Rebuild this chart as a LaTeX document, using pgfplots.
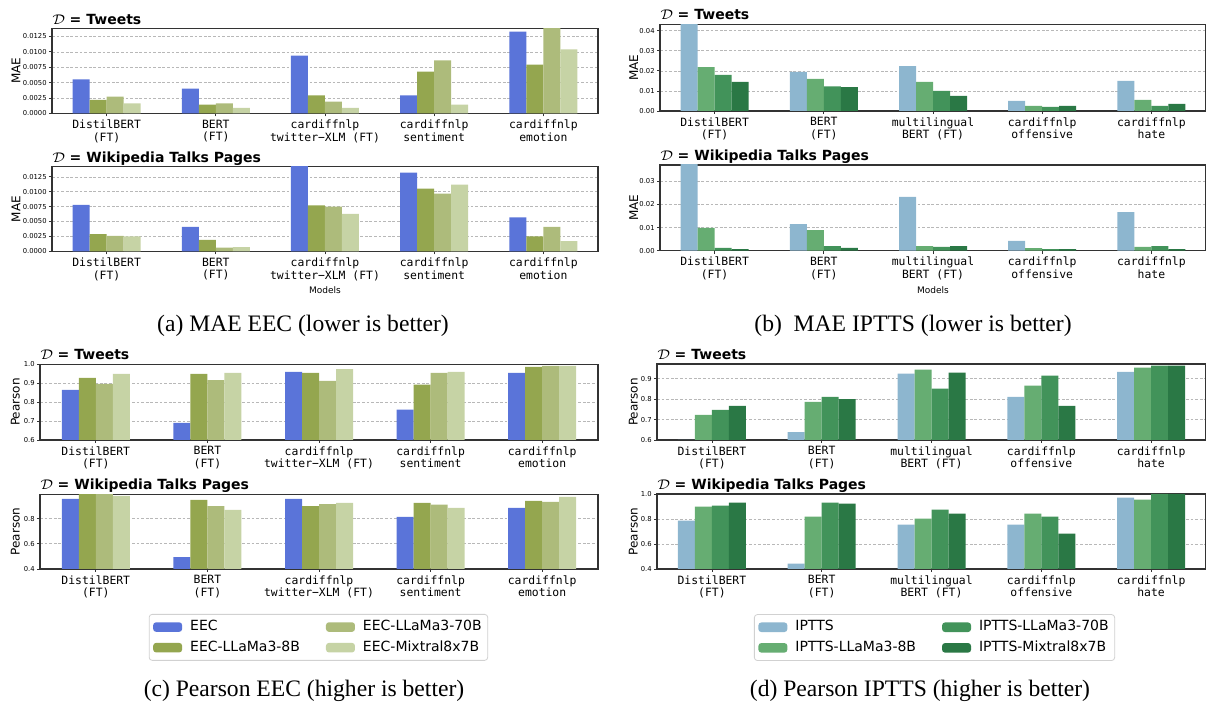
\documentclass[border=0pt]{standalone}
\usepackage{pgfplots}
\pgfplotsset{compat=1.18}
\usepackage{pgfplotstable}
\usepackage{fontspec}
\setmainfont{DejaVu Sans}
\newfontfamily\mono{DejaVu Sans Mono}
\newfontfamily\capfont{Liberation Serif}

\definecolor{eecA}{HTML}{5A74D9}
\definecolor{eecB}{HTML}{94A64F}
\definecolor{eecC}{HTML}{ADBB7B}
\definecolor{eecD}{HTML}{C6D3A5}
\definecolor{ipA}{HTML}{8DB6CF}
\definecolor{ipB}{HTML}{66AD72}
\definecolor{ipC}{HTML}{42935A}
\definecolor{ipD}{HTML}{2A7845}

% MAE EEC, Tweets
\pgfplotstableread{
x a b c d
0 0.0055 0.0022 0.0027 0.0016
1 0.0040 0.0014 0.0016 0.0009
2 0.0094 0.0029 0.0019 0.0009
3 0.0029 0.0068 0.0086 0.0014
4 0.0133 0.0079 0.0145 0.0104
}\maeEECtw
% MAE EEC, Wikipedia
\pgfplotstableread{
x a b c d
0 0.0078 0.0029 0.0026 0.0025
1 0.0041 0.0019 0.0006 0.0007
2 0.0150 0.0077 0.0075 0.0063
3 0.0132 0.0105 0.0097 0.0112
4 0.0057 0.0025 0.0041 0.0017
}\maeEECwk
% MAE IPTTS, Tweets
\pgfplotstableread{
x a b c d
0 0.0450 0.0218 0.0180 0.0145
1 0.0195 0.0160 0.0123 0.0119
2 0.0223 0.0145 0.0100 0.0075
3 0.0050 0.0025 0.0020 0.0025
4 0.0150 0.0055 0.0025 0.0035
}\maeIPtw
% MAE IPTTS, Wikipedia
\pgfplotstableread{
x a b c d
0 0.0400 0.0098 0.0012 0.0007
1 0.0115 0.0089 0.0020 0.0012
2 0.0232 0.0020 0.0016 0.0020
3 0.0042 0.0011 0.0007 0.0007
4 0.0167 0.0016 0.0020 0.0007
}\maeIPwk
% Pearson EEC, Tweets
\pgfplotstableread{
x a b c d
0 0.865 0.928 0.897 0.950
1 0.690 0.949 0.917 0.955
2 0.960 0.955 0.912 0.975
3 0.760 0.892 0.955 0.960
4 0.955 0.987 0.992 0.992
}\prEECtw
% Pearson EEC, Wikipedia
\pgfplotstableread{
x a b c d
0 0.956 0.995 0.995 0.980
1 0.495 0.948 0.900 0.869
2 0.956 0.900 0.915 0.925
3 0.813 0.925 0.910 0.885
4 0.885 0.940 0.933 0.973
}\prEECwk
% Pearson IPTTS, Tweets
\pgfplotstableread{
x a b c d
0 0.500 0.723 0.748 0.767
1 0.639 0.787 0.811 0.800
2 0.925 0.944 0.851 0.930
3 0.811 0.866 0.915 0.767
4 0.934 0.954 0.964 0.964
}\prIPtw
% Pearson IPTTS, Wikipedia
\pgfplotstableread{
x a b c d
0 0.787 0.899 0.907 0.931
1 0.443 0.819 0.931 0.923
2 0.755 0.803 0.875 0.843
3 0.755 0.843 0.819 0.683
4 0.971 0.955 1.000 1.000
}\prIPwk

\newcommand{\eecbars}[1]{%
\addplot[fill=eecA] table[x=x,y=a]{#1};
\addplot[fill=eecB] table[x=x,y=b]{#1};
\addplot[fill=eecC] table[x=x,y=c]{#1};
\addplot[fill=eecD] table[x=x,y=d]{#1};
}
\newcommand{\ipbars}[1]{%
\addplot[fill=ipA] table[x=x,y=a]{#1};
\addplot[fill=ipB] table[x=x,y=b]{#1};
\addplot[fill=ipC] table[x=x,y=c]{#1};
\addplot[fill=ipD] table[x=x,y=d]{#1};
}

\pgfplotsset{
  every axis title/.style={at={(0,1)}, anchor=base west, inner sep=0pt, yshift=2.2pt,
      font=\fontsize{7}{8}\selectfont},
  panel/.style={
    scale only axis, anchor=south west,
    ybar=0pt, bar width=8.5pt,
    xmin=-0.5, xmax=4.5, xtick={0,1,2,3,4},
    enlarge x limits=false,
    axis line style={line width=0.6pt, black!80},
    ymajorgrids, grid style={dash pattern=on 1.4pt off 0.9pt, black!28, line width=0.3pt},
    tick align=outside, major tick length=1.5pt,
    xtick pos=lower, ytick pos=left,
    tick style={black!80, line width=0.4pt},
    scaled y ticks=false,
    /pgf/number format/assume math mode=true,
    yticklabel style={font=\fontsize{3.4}{4}\selectfont, inner sep=1pt},
    xticklabel style={font=\mono\fontsize{5.7}{6.3}\selectfont, align=center, inner sep=1.5pt},
    every axis plot/.append style={draw=none},
    every axis plot post/.append style={legend image code/.code={%
      \fill[##1] (0pt,-2.4pt) rectangle (14.5pt,2.4pt);}},
    clip=true,
  },
  eeclabels/.style={xticklabels={{DistilBERT\\(FT)},{BERT\\(FT)},{cardiffnlp\\twitter−XLM (FT)},{cardiffnlp\\sentiment},{cardiffnlp\\emotion}}},
  iplabels/.style={xticklabels={{DistilBERT\\(FT)},{BERT\\(FT)},{multilingual\\BERT (FT)},{cardiffnlp\\offensive},{cardiffnlp\\hate}}},
  maefmt/.style={yticklabel style={/pgf/number format/.cd, fixed, fixed zerofill, precision=#1}},
  yl/.style={ylabel style={at={(axis description cs:#1,0.5)}, anchor=center, font=\fontsize{6}{7}\selectfont}},
  mylegend/.style={legend style={at={(#1)}, anchor=north, legend columns=2, transpose legend,
      draw=black!18, rounded corners=1.5pt, inner sep=2pt,
      font=\fontsize{7}{8}\selectfont, legend cell align=left,
      nodes={inner sep=1pt, text height=5.2pt, text depth=1.5pt},
      row sep=1.6pt,
      /tikz/every odd column/.append style={column sep=3pt},
      /tikz/every even column/.append style={column sep=12pt}}},
}

\newcommand{\ttl}[1]{$\mathcal{D}$ \textbf{= #1}}

\begin{document}
\begin{tikzpicture}
\useasboundingbox (0,0) rectangle (603pt,-352pt);

% (a) MAE EEC
\begin{axis}[panel, eeclabels, maefmt=4, at={(26pt,-56.65pt)}, width=273pt, height=42.4pt,
  ymin=0, ymax=0.0138, ytick={0,0.0025,0.005,0.0075,0.01,0.0125},
  ylabel={MAE}, yl=-0.066,
  title={\ttl{Tweets}}]
\eecbars{\maeEECtw}
\end{axis}
\begin{axis}[panel, eeclabels, maefmt=4, at={(26pt,-125.65pt)}, width=273pt, height=42.3pt,
  ymin=0, ymax=0.0142, ytick={0,0.0025,0.005,0.0075,0.01,0.0125},
  ylabel={MAE}, yl=-0.066,
  xlabel={Models}, xlabel style={at={(axis description cs:0.5,-0.46)}, anchor=center, font=\fontsize{4.5}{5}\selectfont},
  title={\ttl{Wikipedia Talks Pages}}]
\eecbars{\maeEECwk}
\end{axis}

% (b) MAE IPTTS
\begin{axis}[panel, iplabels, maefmt=2, at={(330pt,-55.5pt)}, width=273pt, height=43.35pt,
  ymin=0, ymax=0.0432, ytick={0,0.01,0.02,0.03,0.04},
  ylabel={MAE}, yl=-0.048,
  title={\ttl{Tweets}}]
\ipbars{\maeIPtw}
\end{axis}
\begin{axis}[panel, iplabels, maefmt=2, at={(330pt,-125.35pt)}, width=273pt, height=42.85pt,
  ymin=0, ymax=0.037, ytick={0,0.01,0.02,0.03},
  ylabel={MAE}, yl=-0.048,
  xlabel={Models}, xlabel style={at={(axis description cs:0.5,-0.46)}, anchor=center, font=\fontsize{4.5}{5}\selectfont},
  title={\ttl{Wikipedia Talks Pages}}]
\ipbars{\maeIPwk}
\end{axis}

% (c) Pearson EEC
\begin{axis}[panel, eeclabels, maefmt=1, at={(20pt,-220pt)}, width=279pt, height=37.85pt,
  ymin=0.6, ymax=1.0, ytick={0.6,0.7,0.8,0.9,1.0},
  ylabel={Pearson}, yl=-0.044,
  title={\ttl{Tweets}}]
\eecbars{\prEECtw}
\end{axis}
\begin{axis}[panel, eeclabels, maefmt=1, at={(20pt,-284.5pt)}, width=279pt, height=37.35pt,
  ymin=0.4, ymax=0.993, ytick={0.4,0.6,0.8},
  ylabel={Pearson}, yl=-0.044,
  title={\ttl{Wikipedia Talks Pages}},
  mylegend={0.499,-0.602}]
\eecbars{\prEECwk}
\legend{EEC, EEC-LLaMa3-8B, EEC-LLaMa3-70B, EEC-Mixtral8x7B}
\end{axis}

% (d) Pearson IPTTS
\begin{axis}[panel, iplabels, maefmt=1, at={(328.5pt,-220pt)}, width=274.5pt, height=38pt,
  ymin=0.6, ymax=0.972, ytick={0.6,0.7,0.8,0.9},
  ylabel={Pearson}, yl=-0.043,
  title={\ttl{Tweets}}]
\ipbars{\prIPtw}
\end{axis}
\begin{axis}[panel, iplabels, maefmt=1, at={(328.5pt,-284.5pt)}, width=274.5pt, height=37.5pt,
  ymin=0.4, ymax=1.0, ytick={0.4,0.6,0.8,1.0},
  ylabel={Pearson}, yl=-0.043,
  title={\ttl{Wikipedia Talks Pages}},
  mylegend={0.5055,-0.602}]
\ipbars{\prIPwk}
\legend{IPTTS, IPTTS-LLaMa3-8B, IPTTS-LLaMa3-70B, IPTTS-Mixtral8x7B}
\end{axis}

% captions
\node[anchor=base, font=\capfont\fontsize{11.8}{13}\selectfont] at (151.5pt,-166pt) {(a) MAE EEC (lower is better)};
\node[anchor=base, font=\capfont\fontsize{11.8}{13}\selectfont] at (456.5pt,-166pt) {(b)~~MAE IPTTS (lower is better)};
\node[anchor=base, font=\capfont\fontsize{11.8}{13}\selectfont] at (152pt,-348.5pt) {(c) Pearson EEC (higher is better)};
\node[anchor=base, font=\capfont\fontsize{11.8}{13}\selectfont] at (460pt,-348.5pt) {(d) Pearson IPTTS (higher is better)};
\end{tikzpicture}
\end{document}
